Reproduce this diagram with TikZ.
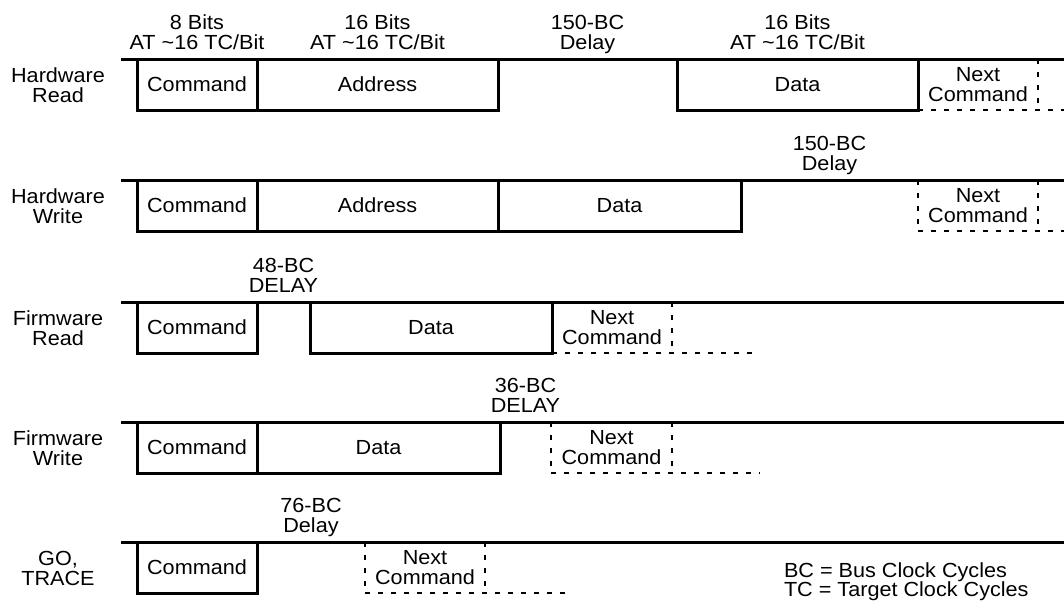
\documentclass[tikz,border=0pt]{standalone}
\usepackage{fontspec}
\setmainfont{Liberation Sans}[FakeStretch=1.06]
\begin{document}
\begin{tikzpicture}[x=1pt,y=-1pt,
  lbl/.style={font=\fontsize{20.4}{19.5}\selectfont, align=center, inner sep=0pt, outer sep=0pt},
  seg/.style={lbl, draw, line width=3pt, minimum height=51pt, anchor=north west},
  nxt/.style={lbl, minimum height=51pt, anchor=north west},
  bus/.style={line width=3pt},
  dsh/.style={line width=1.6pt, dash pattern=on 5pt off 8pt}]
\useasboundingbox (0,0) rectangle (1064,606);

% ---------- Row 1: Hardware Read ----------
\coordinate (s1) at (121,59); \coordinate (f1) at (1064,59);
\draw[bus] (s1) -- (f1);
\node[seg, minimum width=120pt] (cmd1) at (137,59) {Command};
\node[seg, minimum width=241pt] (adr1) at (257,59) {Address};
\node[seg, minimum width=241pt] (dat1) at (677,59) {Data};
\node[nxt, minimum width=120pt] (nxt1) at (918,59) {Next\\Command};
\coordinate (e1) at (1064,110);
\draw[dsh] (nxt1.north east) -- (nxt1.south east);
\draw[dsh] (nxt1.south west) -- (e1);
\node[lbl, anchor=south] (l1) at (58,108) {Hardware\\Read\strut};
\node[lbl, anchor=south] (t1a) at (197,55) {8 Bits\\AT \textasciitilde16 TC/Bit\strut};
\node[lbl, anchor=south] (t1b) at (377.5,55) {16 Bits\\AT \textasciitilde16 TC/Bit\strut};
\node[lbl, anchor=south] (t1c) at (587.5,55) {150-BC\\Delay\strut};
\node[lbl, anchor=south] (t1d) at (797.5,55) {16 Bits\\AT \textasciitilde16 TC/Bit\strut};

% ---------- Row 2: Hardware Write ----------
\coordinate (s2) at (121,180); \coordinate (f2) at (1064,180);
\draw[bus] (s2) -- (f2);
\node[seg, minimum width=120pt] (cmd2) at (137,180) {Command};
\node[seg, minimum width=241pt] (adr2) at (257,180) {Address};
\node[seg, minimum width=243pt] (dat2) at (498,180) {Data};
\node[nxt, minimum width=120pt] (nxt2) at (918,180) {Next\\Command};
\coordinate (e2) at (1064,231);
\draw[dsh] (nxt2.north west) -- (nxt2.south west);
\draw[dsh] (nxt2.north east) -- (nxt2.south east);
\draw[dsh] (nxt2.south west) -- (e2);
\node[lbl, anchor=south] (l2) at (58,229) {Hardware\\Write\strut};
\node[lbl, anchor=south] (t2a) at (829.5,176) {150-BC\\Delay\strut};

% ---------- Row 3: Firmware Read ----------
\coordinate (s3) at (121,302); \coordinate (f3) at (1064,302);
\draw[bus] (s3) -- (f3);
\node[seg, minimum width=120pt] (cmd3) at (137,302) {Command};
\node[seg, minimum width=242pt] (dat3) at (310,302) {Data};
\node[nxt, minimum width=120pt] (nxt3) at (552,302) {Next\\Command};
\coordinate (e3) at (757,353);
\draw[dsh] (nxt3.north east) -- (nxt3.south east);
\draw[dsh] (nxt3.south west) -- (e3);
\node[lbl, anchor=south] (l3) at (58,351) {Firmware\\Read\strut};
\node[lbl, anchor=south] (t3a) at (283.5,298) {48-BC\\DELAY\strut};

% ---------- Row 4: Firmware Write ----------
\coordinate (s4) at (121,422); \coordinate (f4) at (1064,422);
\draw[bus] (s4) -- (f4);
\node[seg, minimum width=120pt] (cmd4) at (137,422) {Command};
\node[seg, minimum width=243pt] (dat4) at (257,422) {Data};
\node[nxt, minimum width=121pt] (nxt4) at (551,422) {Next\\Command};
\coordinate (e4) at (760,473);
\draw[dsh] (nxt4.north west) -- (nxt4.south west);
\draw[dsh] (nxt4.north east) -- (nxt4.south east);
\draw[dsh] (nxt4.south west) -- (e4);
\node[lbl, anchor=south] (l4) at (58,471) {Firmware\\Write\strut};
\node[lbl, anchor=south] (t4a) at (525.5,418) {36-BC\\DELAY\strut};

% ---------- Row 5: GO, TRACE ----------
\coordinate (s5) at (121,542); \coordinate (f5) at (1064,542);
\draw[bus] (s5) -- (f5);
\node[seg, minimum width=120pt] (cmd5) at (137,542) {Command};
\node[nxt, minimum width=120pt] (nxt5) at (365,542) {Next\\Command};
\coordinate (e5) at (570,593);
\draw[dsh] (nxt5.north west) -- (nxt5.south west);
\draw[dsh] (nxt5.north east) -- (nxt5.south east);
\draw[dsh] (nxt5.south west) -- (e5);
\node[lbl, anchor=south] (l5) at (58,591) {GO,\\TRACE\strut};
\node[lbl, anchor=south] (t5a) at (311,538) {76-BC\\Delay\strut};

% ---------- Legend ----------
\node[lbl, align=left, anchor=south west] (leg) at (784,602.5) {BC = Bus Clock Cycles\\TC = Target Clock Cycles\strut};
\end{tikzpicture}
\end{document}
